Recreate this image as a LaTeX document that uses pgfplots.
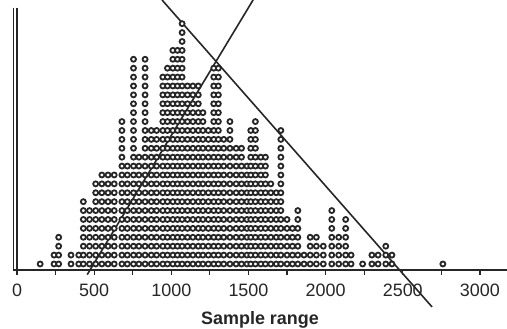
\documentclass[border=0pt]{standalone}
\usepackage{fontspec}
\setmainfont{Liberation Sans}
\usepackage{pgfplots}
\pgfplotsset{compat=1.18}
\definecolor{ink}{HTML}{262626}
% column position / number of stacked dots
\def\cols{150/1,240/2,270/4,350/2,400/2,430/8,470/7,510/10,550/11,590/11,630/11,680/17,715/12,755/24,790/13,830/24,870/16,905/16,945/22,975/23,1010/25,1040/25,1070/28,1105/21,1140/21,1175/21,1205/18,1240/16,1275/23,1305/23,1340/15,1380/17,1420/14,1455/14,1490/12,1515/16,1545/17,1580/13,1610/13,1645/10,1680/9,1710/16,1750/6,1785/5,1820/7,1860/2,1900/4,1940/4,1985/3,2040/7,2085/4,2130/6,2165/2,2240/1,2300/2,2340/2,2390/3,2430/2,2760/1}
\def\pts{}
\foreach \x/\h in \cols {\foreach \k in {1,...,\h} {\xdef\pts{\pts (\x,\k)}}}
\pgfplotsset{dotstyle/.style={only marks, mark=*, mark size=2.5bp, mark options={draw=ink, fill=white, line width=1.8bp}}}
\begin{document}
\begin{tikzpicture}
\begin{axis}[
  scale only axis,
  width=493.8bp, height=262.3bp,
  xmin=-25, xmax=3175, ymin=0.33, ymax=29.8,
  clip=false,
  axis x line=bottom, axis y line=none,
  axis line style={ink, line width=1.3bp, -},
  xtick={0,500,...,3000},
  minor xtick={250,750,...,2750},
  tick align=outside,
  major tick length=5bp, minor tick length=5bp,
  tick style={ink, line width=1.2bp},
  ytick=\empty,
  /pgf/number format/assume math mode=true,
  /pgf/number format/1000 sep={},
  xticklabel style={font=\fontsize{18}{18}\selectfont, text=ink, yshift=-6bp},
  xlabel={Sample range},
  xlabel style={font=\fontsize{18}{18}\selectfont\bfseries, text=ink, at={(axis cs:1575,-5.3)}, anchor=center},
]
\edef\doplot{\noexpand\addplot[dotstyle] coordinates {\pts};}
\doplot
\addplot[ink, line width=1.6bp, no marks] coordinates {(455,-0.2) (1530,30.66)};
\addplot[ink, line width=1.6bp, no marks] coordinates {(940,30.66) (2690,-3.83)};
\draw[ink, line width=1.2bp] (axis cs:-25,29.8) -- (axis cs:-25,0.33);
\draw[ink, line width=1.2bp] (axis cs:0,29.8) -- (axis cs:0,0.33);
\coordinate (bl) at (axis cs:-110.2,-6.30);
\coordinate (tr) at (axis cs:3175.6,30.66);
\end{axis}
\pgfresetboundingbox
\path[use as bounding box] (bl) rectangle (tr);
\end{tikzpicture}
\end{document}
